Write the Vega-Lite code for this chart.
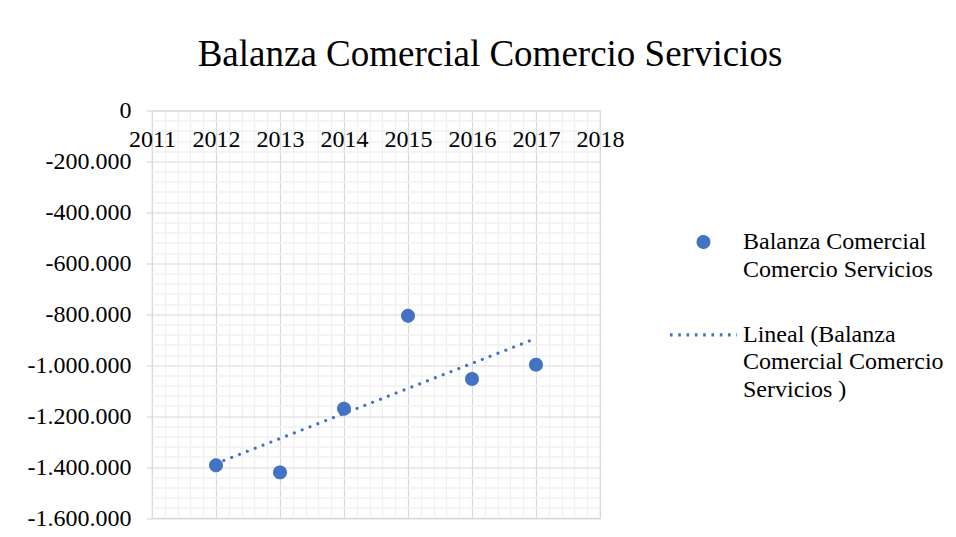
{
  "$schema": "https://vega.github.io/schema/vega-lite/v6.json",
  "autosize": {"type": "none"},
  "width": 448,
  "height": 407.5,
  "padding": {"left": 152, "top": 110.5, "right": 356, "bottom": 19},
  "background": "#ffffff",
  "title": {
    "text": "Balanza Comercial Comercio Servicios",
    "frame": "group",
    "anchor": "middle",
    "baseline": "alphabetic",
    "offset": -4,
    "dx": 114,
    "font": "Liberation Serif",
    "fontSize": 37,
    "fontWeight": "normal",
    "color": "#000000"
  },
  "data": {
    "values": [
      {"anio": 2012, "valor": -1393000},
      {"anio": 2013, "valor": -1421000},
      {"anio": 2014, "valor": -1171000},
      {"anio": 2015, "valor": -806000},
      {"anio": 2016, "valor": -1054000},
      {"anio": 2017, "valor": -998000}
    ]
  },
  "layer": [
    {
      "transform": [{"regression": "valor", "on": "anio"}],
      "mark": {"type": "line", "strokeWidth": 3.2, "strokeCap": "round", "strokeDash": [0.01, 8.4], "color": "#4472C4"},
      "encoding": {
        "x": {
          "field": "anio", "type": "quantitative",
          "scale": {"domain": [2011, 2018], "nice": false, "zero": false},
          "axis": {
            "orient": "bottom",
            "values": [2011.2, 2011.4, 2011.6, 2011.8, 2012.2, 2012.4, 2012.6, 2012.8, 2013.2, 2013.4, 2013.6, 2013.8, 2014.2, 2014.4, 2014.6, 2014.8, 2015.2, 2015.4, 2015.6, 2015.8, 2016.2, 2016.4, 2016.6, 2016.8, 2017.2, 2017.4, 2017.6, 2017.8],
            "grid": true, "gridColor": "#f0f0f0", "gridWidth": 1.3,
            "labels": false, "ticks": false, "domain": false, "title": null
          }
        },
        "y": {
          "field": "valor", "type": "quantitative",
          "scale": {"domain": [-1600000, 0], "nice": false, "zero": false},
          "axis": {
            "orient": "right",
            "values": [-40000, -80000, -120000, -160000, -240000, -280000, -320000, -360000, -440000, -480000, -520000, -560000, -640000, -680000, -720000, -760000, -840000, -880000, -920000, -960000, -1040000, -1080000, -1120000, -1160000, -1240000, -1280000, -1320000, -1360000, -1440000, -1480000, -1520000, -1560000],
            "grid": true, "gridColor": "#f0f0f0", "gridWidth": 1.3,
            "labels": false, "ticks": false, "domain": false, "title": null
          }
        }
      }
    },
    {
      "mark": {"type": "point", "filled": true, "opacity": 1, "color": "#4472C4", "strokeWidth": 3.2, "strokeCap": "round"},
      "encoding": {
        "x": {
          "field": "anio", "type": "quantitative",
          "axis": {
            "orient": "top",
            "values": [2011, 2012, 2013, 2014, 2015, 2016, 2017, 2018],
            "format": "d",
            "grid": true, "gridColor": "#d9d9d9", "gridWidth": 1.2,
            "ticks": false, "tickSize": 0, "domain": false, "title": null,
            "labelPadding": -35.5, "labelBaseline": "alphabetic", "labelAlign": "center",
            "labelFont": "Liberation Serif", "labelFontSize": 24, "labelColor": "#000000",
            "labelOverlap": false, "labelFlush": false
          }
        },
        "y": {
          "field": "valor", "type": "quantitative",
          "axis": {
            "orient": "left",
            "values": [0, -200000, -400000, -600000, -800000, -1000000, -1200000, -1400000, -1600000],
            "format": ",d",
            "grid": true, "gridColor": "#d9d9d9", "gridWidth": 1.2,
            "ticks": true, "tickSize": 6, "tickColor": "#d9d9d9", "tickWidth": 1.2,
            "domain": false, "title": null,
            "labelPadding": 15, "labelBaseline": "middle",
            "labelFont": "Liberation Serif", "labelFontSize": 24, "labelColor": "#000000",
            "labelOverlap": false, "labelFlush": false
          }
        },
        "shape": {
          "datum": "Balanza Comercial|Comercio Servicios",
          "scale": {
            "domain": ["Balanza Comercial|Comercio Servicios", "Lineal (Balanza|Comercial Comercio|Servicios )"],
            "range": ["circle", "stroke"]
          },
          "legend": {
            "orient": "none",
            "legendX": 516,
            "legendY": 119.5,
            "title": null,
            "padding": 0,
            "symbolStrokeWidth": 3.2,
            "labelExpr": "split(datum.label, '|')",
            "labelFont": "Liberation Serif",
            "labelFontSize": 24,
            "labelColor": "#000000",
            "labelLimit": 400,
            "labelOffset": 4,
            "rowPadding": 17.3
          }
        },
        "size": {
          "datum": "Balanza Comercial|Comercio Servicios",
          "scale": {
            "domain": ["Balanza Comercial|Comercio Servicios", "Lineal (Balanza|Comercial Comercio|Servicios )"],
            "range": [115, 4500]
          },
          "legend": {
            "orient": "none",
            "legendX": 516,
            "legendY": 119.5,
            "title": null,
            "padding": 0,
            "symbolStrokeWidth": 3.2,
            "labelExpr": "split(datum.label, '|')",
            "labelFont": "Liberation Serif",
            "labelFontSize": 24,
            "labelColor": "#000000",
            "labelLimit": 400,
            "labelOffset": 4,
            "rowPadding": 17.3
          }
        },
        "stroke": {
          "datum": "Balanza Comercial|Comercio Servicios",
          "scale": {
            "domain": ["Balanza Comercial|Comercio Servicios", "Lineal (Balanza|Comercial Comercio|Servicios )"],
            "range": ["#4472C4", "#4472C4"]
          },
          "legend": {
            "orient": "none",
            "legendX": 516,
            "legendY": 119.5,
            "title": null,
            "padding": 0,
            "symbolStrokeWidth": 3.2,
            "labelExpr": "split(datum.label, '|')",
            "labelFont": "Liberation Serif",
            "labelFontSize": 24,
            "labelColor": "#000000",
            "labelLimit": 400,
            "labelOffset": 4,
            "rowPadding": 17.3
          }
        },
        "strokeDash": {
          "datum": "Balanza Comercial|Comercio Servicios",
          "scale": {
            "domain": ["Balanza Comercial|Comercio Servicios", "Lineal (Balanza|Comercial Comercio|Servicios )"],
            "range": [[1, 0], [2.6, 5.7]]
          },
          "legend": {
            "orient": "none",
            "legendX": 516,
            "legendY": 119.5,
            "title": null,
            "padding": 0,
            "symbolStrokeWidth": 3.2,
            "labelExpr": "split(datum.label, '|')",
            "labelFont": "Liberation Serif",
            "labelFontSize": 24,
            "labelColor": "#000000",
            "labelLimit": 400,
            "labelOffset": 4,
            "rowPadding": 17.3
          }
        }
      }
    }
  ],
  "resolve": {"axis": {"x": "independent", "y": "independent"}},
  "config": {
    "locale": {"number": {"decimal": ",", "thousands": ".", "grouping": [3], "currency": ["", ""], "minus": "-"}},
    "view": {"stroke": "#d9d9d9", "strokeWidth": 1.2},
    "font": "Liberation Serif",
    "style": {"guide-label": {"lineHeight": 27.5}}
  }
}
